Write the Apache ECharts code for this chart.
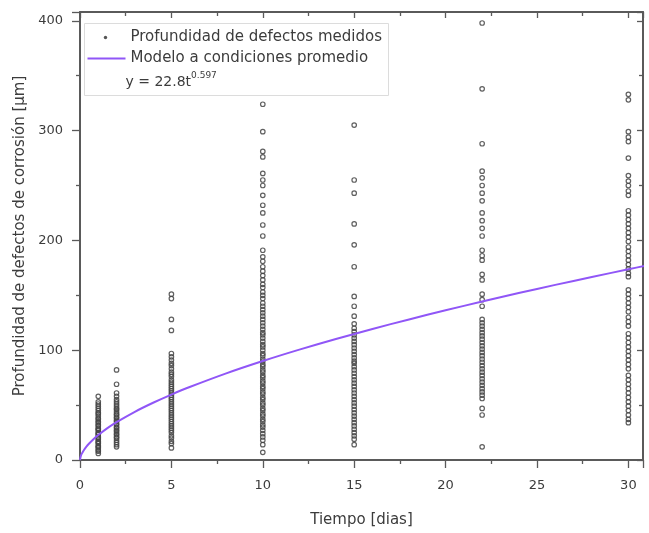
<!DOCTYPE html>
<html>
<head>
<meta charset="utf-8">
<script src="https://cdn.jsdelivr.net/npm/echarts@6/dist/echarts.min.js"></script>
<style>
  html, body { margin: 0; padding: 0; background: #fff; }
  #chart { width: 649px; height: 533px; }
</style>
</head>
<body>
<div id="chart"></div>
<script>
// Exposure times (days) at which defect depths were measured
const times = [1, 2, 5, 10, 15, 22, 30];

// Measured corrosion defect depths (µm) for each exposure time
const depthDay1 = [58, 53, 51, 49, 47, 45, 43, 42, 40, 38, 37, 35, 34, 32, 31, 29, 28, 27, 25, 24, 23, 21, 20, 19, 17, 16, 15, 13, 12, 11, 9, 8, 6];
const depthDay2 = [82, 69, 61, 58, 55, 53, 51, 49, 47, 46, 44, 42, 41, 39, 38, 36, 35, 33, 32, 30, 29, 27, 26, 24, 23, 21, 20, 18, 16, 14, 12];
const depthDay5 = [151, 147, 128, 118, 97, 94, 91, 88, 86, 83, 80, 78, 76, 73, 71, 69, 67, 65, 63, 61, 59, 57, 55, 53, 51, 49, 47, 45, 43, 41, 39, 37, 35, 33, 31, 29, 27, 25, 22, 20, 17, 15, 11];
const depthDay10 = [324, 299, 281, 276, 261, 255, 250, 241, 232, 225, 214, 204, 191, 185, 181, 176, 172, 168, 164, 160, 157, 153, 150, 147, 143, 140, 137, 134, 131, 128, 125, 122, 119, 116, 114, 111, 108, 105, 103, 100, 97, 95, 92, 90, 87, 85, 82, 80, 77, 75, 72, 70, 67, 65, 62, 60, 57, 55, 52, 50, 47, 45, 42, 40, 37, 35, 32, 30, 27, 24, 21, 18, 14, 7];
const depthDay15 = [305, 255, 243, 215, 196, 176, 149, 140, 131, 124, 120, 117, 114, 111, 108, 105, 102, 99, 96, 93, 90, 88, 85, 82, 79, 76, 73, 70, 67, 64, 61, 58, 55, 52, 49, 46, 43, 40, 37, 34, 31, 28, 25, 22, 19, 14];
const depthDay22 = [398, 338, 288, 263, 257, 250, 243, 236, 225, 218, 211, 204, 191, 186, 182, 169, 164, 151, 146, 140, 128, 125, 122, 119, 116, 113, 110, 107, 104, 101, 98, 95, 92, 89, 86, 83, 80, 77, 74, 71, 68, 65, 62, 59, 56, 47, 41, 12];
const depthDay30 = [333, 328, 299, 294, 290, 275, 259, 254, 250, 245, 241, 227, 223, 219, 215, 211, 207, 203, 199, 194, 190, 186, 182, 178, 174, 170, 167, 155, 151, 147, 143, 139, 135, 130, 126, 122, 115, 111, 107, 103, 99, 95, 91, 87, 83, 77, 73, 69, 65, 61, 57, 53, 49, 45, 41, 37, 34];
const depthsByTime = [depthDay1, depthDay2, depthDay5, depthDay10, depthDay15, depthDay22, depthDay30];

// Power-law model at average conditions: y = A * t^B
const modelA = 22.8;
const modelB = 0.597;
const modelTimes = [0, 0.05, 0.1, 0.2, 0.35, 0.5, 0.75, 1, 1.5, 2, 3, 4, 5, 6, 8, 10, 12, 14, 16, 18, 20, 22, 24, 26, 28, 30, 31];

// Axis ticks
const xTicks = [0, 5, 10, 15, 20, 25, 30];
const yTicks = [0, 100, 200, 300, 400];

const seriesNames = ['Profundidad de defectos medidos', 'Modelo a condiciones promedio'];
const xTitle = 'Tiempo [dias]';
const yTitle = 'Profundidad de defectos de corrosión [µm]';

const measured = [];
times.forEach((t, i) => depthsByTime[i].forEach(v => measured.push([t, v])));
const model = modelTimes.map(t => [t, modelA * Math.pow(t, modelB)]);

const FONT = '"DejaVu Sans", Verdana, sans-serif';
const AXIS = '#5a5a5a';
const TEXT = '#3c3c3c';
const PURPLE = '#9056f7';

const xMin = xTicks[0], xMax = 30.8, xStep = xTicks[1] - xTicks[0];
const yMin = yTicks[0], yMax = 408, yStep = yTicks[1] - yTicks[0];

const chart = echarts.init(document.getElementById('chart'), null, { renderer: 'canvas' });

function frameAxis(extra) {
  return Object.assign({
    type: 'value',
    axisLine: { show: true, onZero: false, lineStyle: { color: AXIS, width: 2 } },
    axisTick: { show: true, inside: false, length: 8, lineStyle: { color: AXIS, width: 1.3 } },
    minorTick: { show: true, splitNumber: 2, length: 4, lineStyle: { color: AXIS, width: 1.3 } },
    splitLine: { show: false },
    minorSplitLine: { show: false }
  }, extra);
}

const innerTick = { show: true, inside: true, length: 6, lineStyle: { color: AXIS, width: 1.3 } };
const innerMinor = { show: true, splitNumber: 2, length: 4, lineStyle: { color: AXIS, width: 1.3 } };

chart.setOption({
  animation: false,
  backgroundColor: '#fff',
  grid: { left: 80, right: 6, top: 12, bottom: 68, containLabel: false },
  xAxis: [
    frameAxis({
      position: 'bottom', min: xMin, max: xMax, interval: xStep,
      name: xTitle, nameLocation: 'middle', nameGap: 53,
      nameTextStyle: { fontFamily: FONT, fontSize: 15, color: TEXT },
      axisLabel: { fontFamily: FONT, fontSize: 13, color: TEXT, margin: 19, showMaxLabel: false,
        formatter: v => (xTicks.indexOf(v) >= 0 ? String(v) : '') }
    }),
    frameAxis({
      position: 'top', min: xMin, max: xMax, interval: xStep,
      axisTick: innerTick, minorTick: innerMinor,
      axisLabel: { show: false }
    })
  ],
  yAxis: [
    frameAxis({
      position: 'left', min: yMin, max: yMax, interval: yStep,
      name: yTitle, nameLocation: 'middle', nameGap: 47,
      nameTextStyle: { fontFamily: FONT, fontSize: 15, color: TEXT },
      axisLabel: { fontFamily: FONT, fontSize: 13, color: TEXT, margin: 17, showMaxLabel: false,
        formatter: v => (yTicks.indexOf(v) >= 0 ? String(v) : '') }
    }),
    frameAxis({
      position: 'right', min: yMin, max: yMax, interval: yStep,
      axisTick: innerTick, minorTick: innerMinor,
      axisLabel: { show: false }
    })
  ],
  series: [
    {
      name: seriesNames[0],
      type: 'scatter',
      xAxisIndex: 0, yAxisIndex: 0,
      data: measured,
      symbol: 'circle',
      symbolSize: 4.5,
      itemStyle: { color: 'rgba(255,255,255,0)', borderColor: '#444', borderWidth: 1.2, opacity: 0.85 },
      z: 2
    },
    {
      name: seriesNames[1],
      type: 'line',
      xAxisIndex: 0, yAxisIndex: 0,
      data: model,
      smooth: 0.3,
      showSymbol: false,
      clip: true,
      lineStyle: { color: PURPLE, width: 2 },
      z: 3
    }
  ],
  graphic: [
    {
      type: 'group', left: 84, top: 23, z: 10,
      children: [
        { type: 'rect', shape: { x: 0, y: 0, width: 304, height: 72 },
          style: { fill: '#fff', stroke: '#dcdcdc', lineWidth: 1 } },
        { type: 'circle', shape: { cx: 21, cy: 14, r: 1.7 }, style: { fill: '#555' } },
        { type: 'text', x: 46, y: 14,
          style: { text: seriesNames[0], font: '15px ' + FONT, fill: TEXT, verticalAlign: 'middle' } },
        { type: 'line', shape: { x1: 3, y1: 35, x2: 41, y2: 35 },
          style: { stroke: PURPLE, lineWidth: 2 } },
        { type: 'text', x: 46, y: 35,
          style: { text: seriesNames[1], font: '15px ' + FONT, fill: TEXT, verticalAlign: 'middle' } },
        { type: 'text', x: 41, y: 57,
          style: {
            text: '{m|y = ' + modelA + 't}{s|' + modelB + '}',
            verticalAlign: 'middle',
            rich: {
              m: { fontFamily: FONT, fontSize: 14, fill: TEXT, lineHeight: 18, verticalAlign: 'bottom' },
              s: { fontFamily: FONT, fontSize: 9, fill: TEXT, lineHeight: 18, verticalAlign: 'top' }
            }
          } }
      ]
    }
  ]
});
</script>
</body>
</html>
